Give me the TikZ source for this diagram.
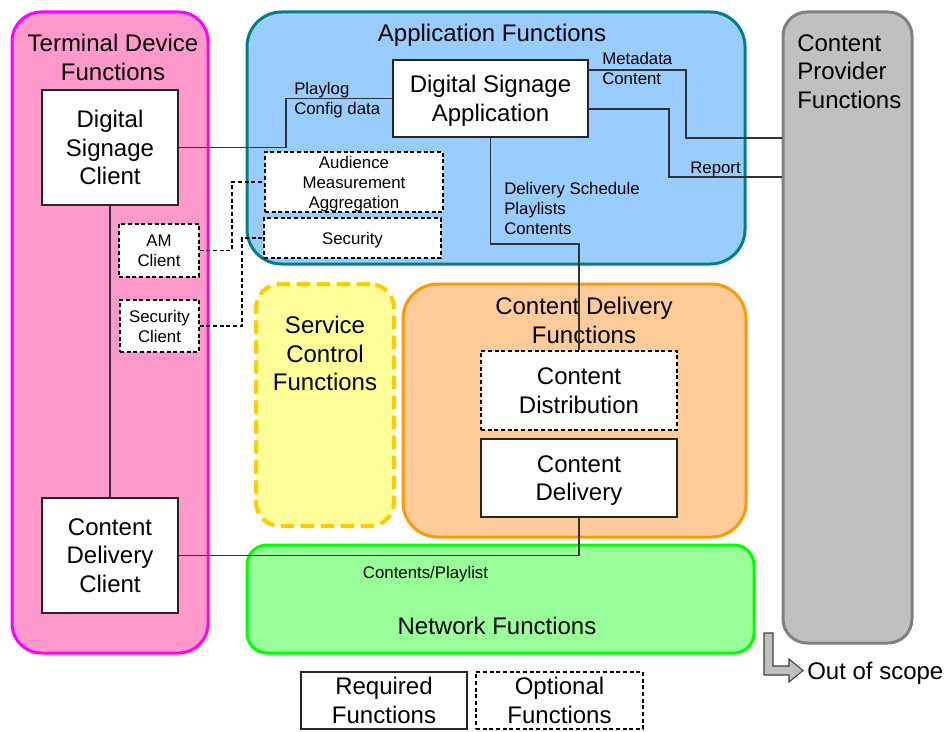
\documentclass[tikz,border=0pt]{standalone}
\usepackage{fontspec}
\setmainfont{Liberation Sans}
\usetikzlibrary{fit}
\definecolor{pinkfill}{HTML}{FF99CC}
\definecolor{magentaline}{HTML}{FF00FF}
\definecolor{bluefill}{HTML}{99CCFF}
\definecolor{tealline}{HTML}{008080}
\definecolor{grayfill}{HTML}{C0C0C0}
\definecolor{grayline}{HTML}{808080}
\definecolor{yellowfill}{HTML}{FFFF99}
\definecolor{yellowline}{HTML}{FFCC00}
\definecolor{orangefill}{HTML}{FFCC99}
\definecolor{orangeline}{HTML}{FF9900}
\definecolor{greenfill}{HTML}{99FF99}
\definecolor{greenline}{HTML}{00FF00}
\definecolor{wire}{HTML}{333333}
\begin{document}
\begin{tikzpicture}[x=0.75pt,y=-0.75pt,
 big/.style={font=\fontsize{18}{21.4}\selectfont, align=center, inner sep=0},
 small/.style={font=\fontsize{12.6}{15}\selectfont, align=center},
 sz/.style 2 args={minimum width=#1*0.75pt, minimum height=#2*0.75pt},
 area/.style={inner sep=0, line width=2.25pt},
 reqbox/.style={inner sep=0, draw=black!85, line width=1pt, fill=white, text depth=0pt},
 optbox/.style={inner sep=0, draw=black, line width=1.2pt, fill=white, dash pattern=on 3pt off 2pt, text depth=0pt},
 wireline/.style={draw=wire, line width=0.8pt},
 optwire/.style={draw=black, line width=1.2pt, dash pattern=on 3pt off 2pt},
 lbl/.style={font=\fontsize{12.6}{15}\selectfont, inner sep=0}
]
\useasboundingbox (0,0) rectangle (944,731);

% Containers
\node[area, draw=magentaline, fill=pinkfill, rounded corners=22pt, fit={(12,12)(208,653)}] (tdf) {};
\node[big] (tdft) at (113,57.5) {Terminal Device\\Functions};

\node[area, draw=tealline, fill=bluefill, rounded corners=26pt, fit={(247,12)(745,264)}] (apf) {};
\node[big, anchor=base] (apft) at (492,41.6) {Application Functions};

\node[area, draw=grayline, fill=grayfill, rounded corners=18pt, fit={(783,12)(912,643)}] (cpf) {};
\node[big, align=left, anchor=west] (cpft) at (797,71.5) {Content\\Provider\\Functions};

\node[area, draw=yellowline, fill=yellowfill, line width=3pt, dash pattern=on 10pt off 5pt, rounded corners=18pt, fit={(256,284)(394,526)}] (scf) {};
\node[big] (scft) at (325,353.5) {Service\\Control\\Functions};

\node[area, draw=orangeline, fill=orangefill, rounded corners=26pt, fit={(403,284)(746,537)}] (cdf) {};
\node[big] (cdft) at (584,320.5) {Content Delivery\\Functions};

\node[area, draw=greenline, fill=greenfill, rounded corners=15pt, fit={(247,545)(754,653)}] (nf) {};
\node[big, anchor=base] (nft) at (497,634.6) {Network Functions};

% Boxes
\node[reqbox, big, sz={136}{115}] (dsc) at (110,147.5) {Digital\\Signage\\Client};
\node[optbox, small, sz={80}{53}] (amc) at (159,250.5) {AM\\Client};
\node[optbox, small, sz={79}{52}] (secc) at (159.5,326) {Security\\Client};
\node[reqbox, big, sz={136}{115}] (cdc) at (110,555.5) {Content\\Delivery\\Client};

\node[reqbox, big, sz={195}{77}] (dsa) at (490.5,98.5) {Digital Signage\\Application};
\node[optbox, small, sz={178}{60}] (ama) at (354,182) {Audience\\Measurement\\Aggregation};
\node[optbox, small, sz={177}{40}] (sec) at (352.5,238) {Security};

\node[optbox, big, sz={196}{79}] (cdist) at (579,390.5) {Content\\Distribution};
\node[reqbox, big, sz={196}{78}] (cdel) at (579,478) {Content\\Delivery};

% Legend
\node[reqbox, big, sz={166}{57}] (req) at (384,700.5) {Required\\Functions};
\node[optbox, big, sz={167}{57}] (opt) at (559.5,700.5) {Optional\\Functions};

% Connectors
\draw[wireline] (dsc.south) -- (cdc.north);
\draw[wireline] (dsc.east) -- (286,147.5) |- (dsa.west);
\draw[wireline] (dsa.east |- 0,70) -| (686,138) -- (cpf.west |- 0,138);
\draw[wireline] (dsa.east |- 0,109) -| (669,177) -- (cpf.west |- 0,177);
\draw[wireline] (dsa.south) |- (579,244) -- (cdist.north);
\draw[wireline] (cdel.south) |- (cdc.east);
\draw[optwire] (amc.east) -| (232,182) -- (ama.west);
\draw[optwire] (secc.east) -| (242,238) -- (sec.west);

% Connector labels
\node[lbl, anchor=base west] at (294,94.3) {Playlog};
\node[lbl, anchor=base west] at (294,114) {Config data};
\node[lbl, anchor=base west] at (602,65) {Metadata};
\node[lbl, anchor=base west] at (602,85) {Content};
\node[lbl, anchor=base east] at (741,173.3) {Report};
\node[lbl, anchor=base west] at (504,194) {Delivery Schedule};
\node[lbl, anchor=base west] at (504,214) {Playlists};
\node[lbl, anchor=base west] at (504,234) {Contents};
\node[lbl, anchor=base] at (425.5,578) {Contents/Playlist};

% Out of scope arrow
\draw[fill=grayfill, draw=black!75, line width=0.8pt, line join=miter]
  (764,633) -- (773,633) -- (773,666) -- (789,666) -- (789,659) -- (803,670.5)
  -- (789,682) -- (789,675) -- (764,675) -- cycle;
\node[big, anchor=base west] (oos) at (807,679) {Out of scope};
\end{tikzpicture}
\end{document}
